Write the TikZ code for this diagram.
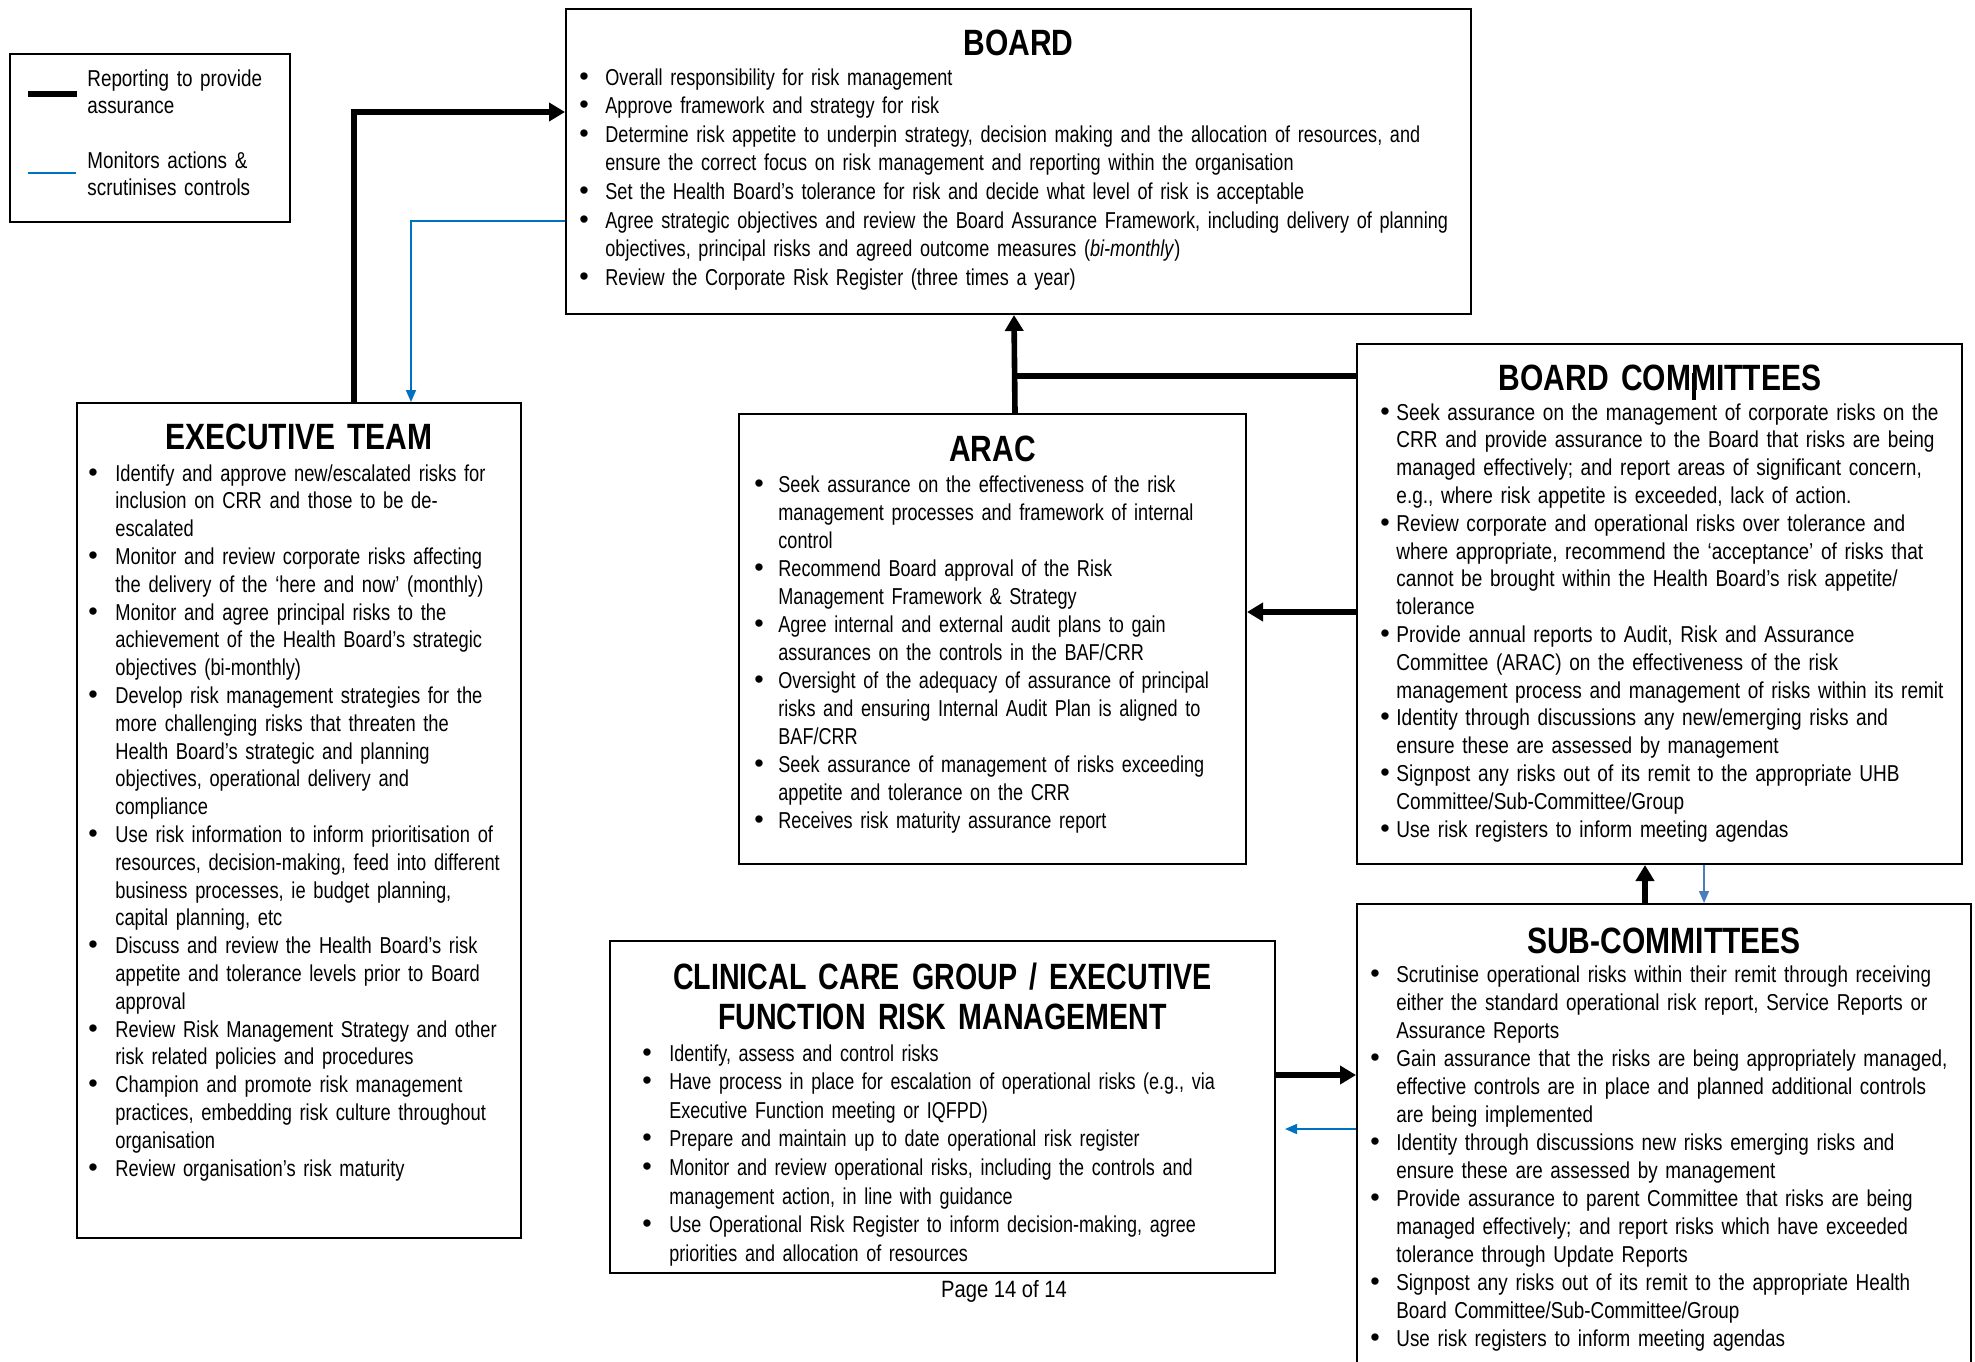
\documentclass[tikz,border=0pt]{standalone}
\usepackage{fontspec}
\setmainfont{Liberation Sans}
\newfontfamily\nar{Liberation Sans}[FakeStretch=0.82]
\newfontfamily\narA{Liberation Sans}[FakeStretch=0.786]
\newfontfamily\narE{Liberation Sans}[FakeStretch=0.796]
\newfontfamily\narC{Liberation Sans}[FakeStretch=0.782]
\newfontfamily\narw{Liberation Sans}[FakeStretch=0.828]
\newfontfamily\narp{Liberation Sans}[FakeStretch=0.855]
\newfontfamily\bulfont{Liberation Sans}
\usetikzlibrary{arrows.meta,calc,fit}
\definecolor{monblue}{HTML}{0070C0}
\definecolor{steelblue}{HTML}{4A7EBB}
\hyphenpenalty=10000
\exhyphenpenalty=10000
\newlength\bhang
\newcommand{\bigbul}{{\bulfont\fontsize{13.5}{14}\selectfont\textbullet}}
\newcommand{\bitem}[1]{\noindent\hangindent=\bhang\hangafter=1\makebox[\bhang][l]{\bigbul}#1\par}
\tikzset{
  box/.style={draw=black, line width=1pt, inner sep=0pt},
  lgbox/.style={draw=black, line width=0.8pt, inner sep=0pt},
  ttl/.style={anchor=base, inner sep=0pt, align=center, text width=300pt, font=\nar\bfseries\fontsize{18.3}{20}\selectfont},
  txt/.style={anchor=base west, inner sep=0pt, align=left, font=\nar\fontsize{11.5}{14}\selectfont},
  rep/.style={line width=2.8pt, -{Triangle[length=8pt,width=9pt]}},
  repline/.style={line width=2.8pt},
  mon/.style={draw=monblue, line width=0.8pt, -{Triangle[length=6pt,width=5pt]}},
  mons/.style={draw=steelblue, line width=0.8pt, -{Triangle[length=6pt,width=5pt]}},
}
\begin{document}
\begin{tikzpicture}[x=0.5pt,y=-0.5pt]
\useasboundingbox (0,0) rectangle (1975,1361);

% ---------- boxes ----------
\node[lgbox, fit={(10,54) (290,222)}] (legend) {};
\node[box, fit={(566,9) (1471,314)}] (board) {};
\node[box, fit={(77,403) (521,1238)}] (exec) {};
\node[box, fit={(739,414) (1246,864)}] (arac) {};
\node[box, fit={(1357,344) (1962,864)}] (bc) {};
\node[box, fit={(1357,904) (1971,1372)}] (sc) {};
\node[box, fit={(610,941) (1275,1273)}] (ccg) {};

% ---------- legend ----------
\coordinate (lgA1) at (28,94);
\coordinate (lgA2) at (77,94);
\coordinate (lgB1) at (28,173);
\coordinate (lgB2) at (76,173);
\draw[line width=2.6pt] (lgA1) -- (lgA2);
\draw[draw=monblue, line width=0.8pt] (lgB1) -- (lgB2);
\node[txt, text width=100pt, font=\nar\fontsize{11.5}{13.5}\selectfont] (lgtA) at (87,86) {Reporting to provide\newline assurance};
\node[txt, text width=100pt, font=\nar\fontsize{11.5}{13.5}\selectfont] (lgtB) at (87,168) {Monitors actions \&\newline scrutinises controls};

% ---------- titles ----------
\node[ttl] (boardT) at (1018.5,55) {BOARD};
\node[ttl] (execT) at (299,449) {EXECUTIVE TEAM};
\node[ttl] (aracT) at (992.5,461) {ARAC};
\node[ttl] (bcT) at (1660,390) {BOARD COMMITTEES};
\node[ttl] (scT) at (1664,953) {SUB-COMMITTEES};
\node[ttl, font=\narC\bfseries\fontsize{18.3}{20}\selectfont] (ccgT) at (942.5,989) {CLINICAL CARE GROUP / EXECUTIVE\\FUNCTION RISK MANAGEMENT};

% ---------- body texts ----------
\node[txt, text width=445pt, font=\narA\fontsize{11.5}{14.3}\selectfont] (boardB) at (579,85) {\setlength\bhang{13pt}%
\bitem{Overall responsibility for risk management}
\bitem{Approve framework and strategy for risk}
\bitem{Determine risk appetite to underpin strategy, decision making and the allocation of resources, and\newline ensure the correct focus on risk management and reporting within the organisation}
\bitem{Set the Health Board’s tolerance for risk and decide what level of risk is acceptable}
\bitem{Agree strategic objectives and review the Board Assurance Framework, including delivery of planning\newline objectives, principal risks and agreed outcome measures (\textit{bi-monthly})}
\bitem{Review the Corporate Risk Register (three times a year)}};

\node[txt, text width=222pt, font=\narE\fontsize{11.5}{13.9}\selectfont] (execB) at (88,481) {\setlength\bhang{13.5pt}%
\bitem{Identify and approve new/escalated risks for\newline inclusion on CRR and those to be de-\newline escalated}
\bitem{Monitor and review corporate risks affecting\newline the delivery of the ‘here and now’ (monthly)}
\bitem{Monitor and agree principal risks to the\newline achievement of the Health Board’s strategic\newline objectives (bi-monthly)}
\bitem{Develop risk management strategies for the\newline more challenging risks that threaten the\newline Health Board’s strategic and planning\newline objectives, operational delivery and\newline compliance}
\bitem{Use risk information to inform prioritisation of\newline resources, decision-making, feed into different\newline business processes, ie budget planning,\newline capital planning, etc}
\bitem{Discuss and review the Health Board’s risk\newline appetite and tolerance levels prior to Board\newline approval}
\bitem{Review Risk Management Strategy and other\newline risk related policies and procedures}
\bitem{Champion and promote risk management\newline practices, embedding risk culture throughout\newline organisation}
\bitem{Review organisation’s risk maturity}};

\node[txt, text width=250pt, font=\narA\fontsize{11.5}{14}\selectfont] (aracB) at (754,492) {\setlength\bhang{12pt}%
\bitem{Seek assurance on the effectiveness of the risk\newline management processes and framework of internal\newline control}
\bitem{Recommend Board approval of the Risk\newline Management Framework \& Strategy}
\bitem{Agree internal and external audit plans to gain\newline assurances on the controls in the BAF/CRR}
\bitem{Oversight of the adequacy of assurance of principal\newline risks and ensuring Internal Audit Plan is aligned to\newline BAF/CRR}
\bitem{Seek assurance of management of risks exceeding\newline appetite and tolerance on the CRR}
\bitem{Receives risk maturity assurance report}};

\node[txt, text width=300pt, font=\narw\fontsize{11.5}{13.9}\selectfont] (bcB) at (1380,420) {\setlength\bhang{8pt}%
\bitem{Seek assurance on the management of corporate risks on the\newline CRR and provide assurance to the Board that risks are being\newline managed effectively; and report areas of significant concern,\newline e.g., where risk appetite is exceeded, lack of action.}
\bitem{Review corporate and operational risks over tolerance and\newline where appropriate, recommend the ‘acceptance’ of risks that\newline cannot be brought within the Health Board’s risk appetite/\newline tolerance}
\bitem{Provide annual reports to Audit, Risk and Assurance\newline Committee (ARAC) on the effectiveness of the risk\newline management process and management of risks within its remit}
\bitem{Identity through discussions any new/emerging risks and\newline ensure these are assessed by management}
\bitem{Signpost any risks out of its remit to the appropriate UHB\newline Committee/Sub-Committee/Group}
\bitem{Use risk registers to inform meeting agendas}};

\node[txt, text width=300pt] (scB) at (1370,982) {\setlength\bhang{13pt}%
\bitem{Scrutinise operational risks within their remit through receiving\newline either the standard operational risk report, Service Reports or\newline Assurance Reports}
\bitem{Gain assurance that the risks are being appropriately managed,\newline effective controls are in place and planned additional controls\newline are being implemented}
\bitem{Identity through discussions new risks emerging risks and\newline ensure these are assessed by management}
\bitem{Provide assurance to parent Committee that risks are being\newline managed effectively; and report risks which have exceeded\newline tolerance through Update Reports}
\bitem{Signpost any risks out of its remit to the appropriate Health\newline Board Committee/Sub-Committee/Group}
\bitem{Use risk registers to inform meeting agendas}};

\node[txt, text width=316pt, font=\narC\fontsize{11.5}{14.3}\selectfont] (ccgB) at (642,1061) {\setlength\bhang{13.5pt}%
\bitem{Identify, assess and control risks}
\bitem{Have process in place for escalation of operational risks (e.g., via\newline Executive Function meeting or IQFPD)}
\bitem{Prepare and maintain up to date operational risk register}
\bitem{Monitor and review operational risks, including the controls and\newline management action, in line with guidance}
\bitem{Use Operational Risk Register to inform decision-making, agree\newline priorities and allocation of resources}};

\node[anchor=base, inner sep=0pt, font=\narp\fontsize{11.8}{14}\selectfont] (page) at (1004,1297) {Page 14 of 14};

% ---------- connectors ----------
% Executive team reports to Board
\draw[rep] ($(exec.north west)+(278,0)$) |- ($(board.north west)+(0,104)$);
% Board monitors Executive team
\draw[mon] ($(board.north west)+(0,213)$) -| ($(exec.north west)+(335,0)$);
% ARAC reports to Board
\draw[rep] ($(arac.north west)+(277,0)$) -- ($(board.south west)+(449,0)$);
% Board committees join the ARAC line
\draw[repline] ($(bc.north west)+(0,33)$) -- ($(arac.north west)+(276,-37)$);
% stub in the Board Committees title
\draw[line width=2pt] ($(bc.north west)+(338,30)$) -- ($(bc.north west)+(338,57)$);
% Board committees report to ARAC
\draw[rep] ($(bc.north west)+(0,269)$) -- ($(arac.north east)+(0,199)$);
% Sub-committees report to Board committees
\draw[rep] ($(sc.north west)+(289,0)$) -- ($(bc.south west)+(289,0)$);
% Board committees monitor Sub-committees
\draw[mons] ($(bc.south west)+(348,0)$) -- ($(sc.north west)+(348,0)$);
% Clinical care group reports to Sub-committees
\draw[rep] ($(ccg.north east)+(0,135)$) -- ($(sc.north west)+(0,172)$);
% Sub-committees monitor Clinical care group
\coordinate (scmonend) at ($(sc.north west)+(-71,226)$);
\draw[mon] ($(sc.north west)+(0,226)$) -- (scmonend);
\end{tikzpicture}
\end{document}
